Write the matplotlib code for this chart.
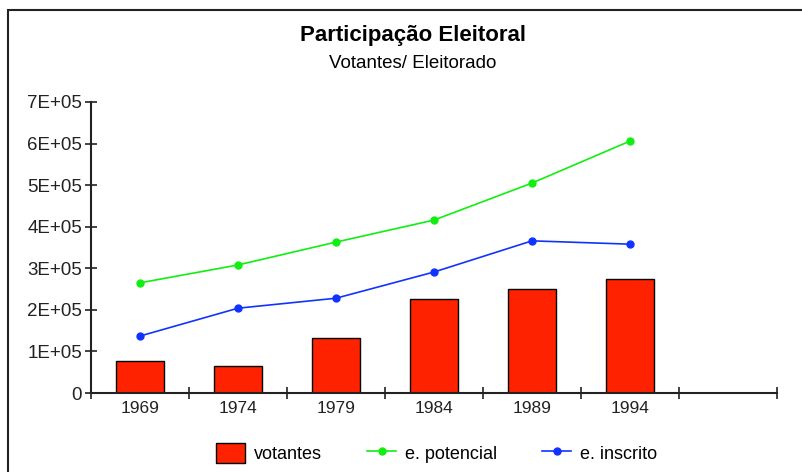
import matplotlib.pyplot as plt
from matplotlib.patches import Rectangle
from matplotlib.ticker import FuncFormatter

years = ['1969', '1974', '1979', '1984', '1989', '1994']
votantes = [77000, 65000, 132000, 226000, 250000, 274000]
potencial = [265000, 308000, 363000, 416000, 505000, 606000]
inscrito = [137000, 204000, 228000, 291000, 366000, 358000]

plt.rcParams['font.family'] = ['Liberation Sans', 'DejaVu Sans']


def sci_label(v, pos):
    """Format like 7E+05, zero as plain 0"""
    if v == 0:
        return '0'
    return '%dE+05' % round(v / 1e5)


fig = plt.figure(figsize=(8.03, 4.72), dpi=100)

# outer frame of the original chart
fig.patches.append(Rectangle((8 / 803, -0.1), 1.2, 1 - 10 / 472 + 0.1,
                             transform=fig.transFigure, fill=False,
                             edgecolor='#222222', linewidth=1.5))

ax = fig.add_axes([91 / 803, 1 - 393 / 472, 686 / 803, 291 / 472])
x = range(len(years))

bars = ax.bar(x, votantes, width=0.48, color='#ff2200', edgecolor='black',
              linewidth=1.0, label='votantes', zorder=2)
l1, = ax.plot(x, potencial, color='#11ee11', marker='o', markersize=5,
              linewidth=1.2, label='e. potencial', zorder=3)
l2, = ax.plot(x, inscrito, color='#1133ff', marker='o', markersize=5,
              linewidth=1.2, label='e. inscrito', zorder=3)

ax.set_xlim(-0.5, 6.5)
ax.set_ylim(0, 700000)
ax.set_xticks(range(len(years)))
ax.set_xticklabels(years)
ax.set_xticks([i - 0.5 for i in range(8)], minor=True)
ax.set_yticks(range(0, 700001, 100000))
ax.yaxis.set_major_formatter(FuncFormatter(sci_label))

ax.tick_params(axis='x', which='major', length=0, labelsize=12.5, pad=6,
               colors='#222222')
ax.tick_params(axis='x', which='minor', direction='inout', length=8,
               width=1.2, color='#222222')
ax.tick_params(axis='y', direction='inout', length=9, width=1.2,
               labelsize=13.5, pad=2, colors='#222222')

for side in ['top', 'right']:
    ax.spines[side].set_visible(False)
for side in ['left', 'bottom']:
    ax.spines[side].set_linewidth(1.5)
    ax.spines[side].set_color('#222222')

fig.text(0.514, 1 - 36 / 472, 'Participação Eleitoral', ha='center',
         va='center', fontsize=16, fontweight='bold')
fig.text(0.514, 1 - 63 / 472, 'Votantes/ Eleitorado', ha='center',
         va='center', fontsize=13.5)

fig.legend([bars, l1, l2], ['votantes', 'e. potencial', 'e. inscrito'],
           loc='center', bbox_to_anchor=(0.544, 1 - 453 / 472), ncol=3,
           frameon=False, fontsize=13, handlelength=1.6, handleheight=1.3,
           columnspacing=2.5, handletextpad=0.5)

fig.savefig('out.png', dpi=100)
